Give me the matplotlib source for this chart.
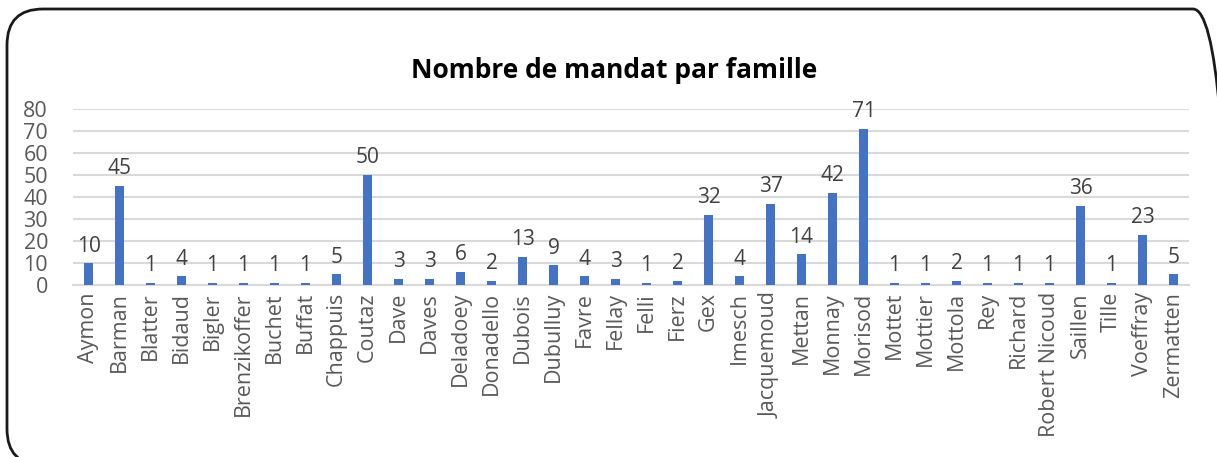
import matplotlib
matplotlib.use("Agg")
import matplotlib.pyplot as plt
from matplotlib.patches import FancyBboxPatch

# --- data ---
familles = ["Aymon", "Barman", "Blatter", "Bidaud", "Bigler", "Brenzikoffer", "Buchet",
            "Buffat", "Chappuis", "Coutaz", "Dave", "Daves", "Deladoey", "Donadello",
            "Dubois", "Dubulluy", "Favre", "Fellay", "Felli", "Fierz", "Gex", "Imesch",
            "Jacquemoud", "Mettan", "Monnay", "Morisod", "Mottet", "Mottier", "Mottola",
            "Rey", "Richard", "Robert Nicoud", "Saillen", "Tille", "Voeffray", "Zermatten"]
mandats = [10, 45, 1, 4, 1, 1, 1, 1, 5, 50, 3, 3, 6, 2, 13, 9, 4, 3, 1, 2, 32, 4,
           37, 14, 42, 71, 1, 1, 2, 1, 1, 1, 36, 1, 23, 5]
y_ticks = [0, 10, 20, 30, 40, 50, 60, 70, 80]

plt.rcParams['font.family'] = ['Open Sans', 'DejaVu Sans']

fig = plt.figure(figsize=(12.17, 4.57), dpi=100)
ax = fig.add_axes([0.060, 0.376, 0.917, 0.3855])

x = range(len(familles))
ax.bar(x, mandats, width=0.3, color='#4472c4', zorder=3)

# value labels above bars
for xi, v in zip(x, mandats):
    ax.text(xi, v + 3, str(v), ha='center', va='bottom', fontsize=15, color='#404040')

ax.set_xlim(-0.5, len(familles) - 0.5)
ax.set_ylim(0, 80)
ax.set_yticks(y_ticks)
ax.set_xticks(list(x))
ax.set_xticklabels(familles, rotation=90, fontsize=15.5, color='#595959')
ax.tick_params(axis='y', labelsize=15.5, labelcolor='#595959', length=0, pad=18)
ax.tick_params(axis='x', length=0, pad=5)

ax.grid(axis='y', color='#d9d9d9', linewidth=1.5, zorder=0)
for side in ['top', 'right', 'left']:
    ax.spines[side].set_visible(False)
ax.spines['bottom'].set_color('#d9d9d9')
ax.spines['bottom'].set_linewidth(1.5)

fig.text(0.505, 0.845, 'Nombre de mandat par famille', ha='center', va='center',
         fontsize=19, fontweight='bold', color='#000000')

# rounded frame around the chart (in pixels, cut off on right/bottom)
frame = FancyBboxPatch((7, -8), 1222, 456, boxstyle='round,pad=0,rounding_size=36',
                       transform=None, facecolor='none', edgecolor='#1a1a1a', linewidth=2)
fig.patches.append(frame)

fig.savefig('out.png', dpi=100)
